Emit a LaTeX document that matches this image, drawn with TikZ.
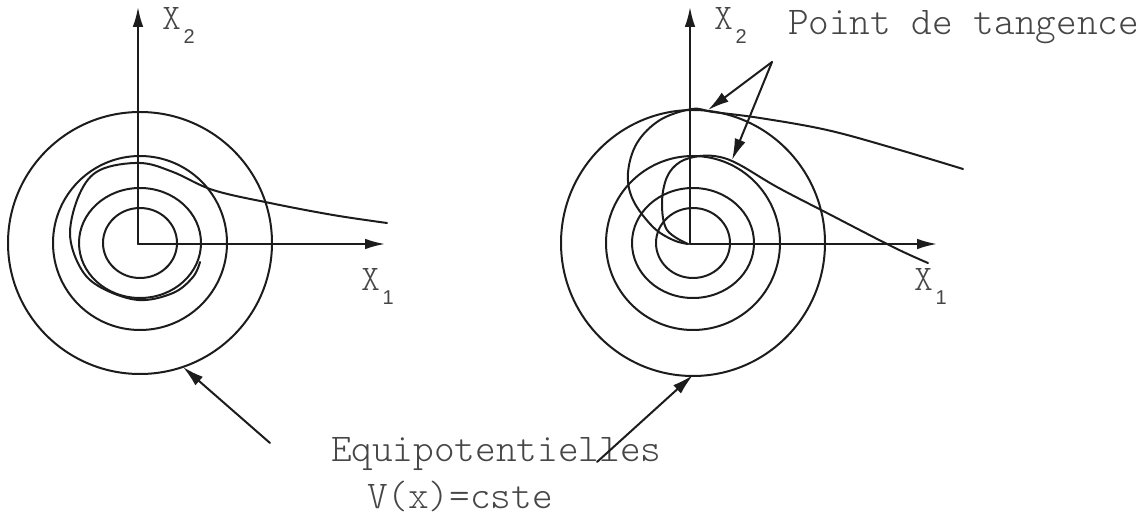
\documentclass[tikz,border=0pt]{standalone}
\usepackage{fontspec}
\setmonofont{Latin Modern Mono Light}
\newfontfamily\subfont{Liberation Sans}
\usetikzlibrary{arrows.meta}
\definecolor{texte}{RGB}{70,70,70}
\definecolor{trait}{RGB}{28,28,28}
\tikzset{
  axe/.style={-{Latex[length=15pt,width=8pt]}},
  fleche/.style={-{Latex[length=16pt,width=8.5pt]}},
  lbl/.style={inner sep=0pt, anchor=base west, text=texte, font=\ttfamily\fontsize{29.5}{34}\selectfont},
  axlbl/.style={lbl, font=\ttfamily\fontsize{27}{32}\selectfont}
}
\newcommand{\indice}[1]{\hspace{2pt}\raisebox{-10pt}{\subfont\fontsize{15}{18}\selectfont #1}}
\begin{document}
\begin{tikzpicture}[x=0.75pt, y=-0.75pt, line width=1.5pt, line join=round, line cap=round, draw=trait]
\useasboundingbox (0,0) rectangle (1138,516);

% Plan de phase de gauche
\coordinate (O1) at (138,244);
\coordinate (X1g) at (385,244);
\coordinate (X2g) at (138,7);
\draw[axe] (O1) -- (X1g);
\draw[axe] (O1) -- (X2g);
\node[axlbl] (lx2g) at (161,30) {X\indice{2}};
\node[axlbl] (lx1g) at (360,291) {X\indice{1}};

% Equipotentielles V(x)=cste
\foreach \rx/\ry in {37/35, 61/55, 87/87, 132/131}
  \draw ([shift={(2,-1)}]O1) ellipse ({\rx} and {\ry});

% Trajectoire en spirale
\draw plot[smooth, tension=0.6] coordinates {(387,223) (333,215) (270,203) (213,190) (173,172) (140,163) (100,170) (80,193) (70,233) (80,267) (100,287) (138,300) (173,293) (193,277) (200,262)};

% Plan de phase de droite
\coordinate (O2) at (690,244);
\coordinate (X1d) at (937,244);
\coordinate (X2d) at (690,7);
\draw[axe] (O2) -- (X1d);
\draw[axe] (O2) -- (X2d);
\node[axlbl] (lx2d) at (713,30) {X\indice{2}};
\node[axlbl] (lx1d) at (913,291) {X\indice{1}};

\foreach \rx/\ry in {37/35, 61/55, 87/87, 132/133}
  \draw ([shift={(3,-1)}]O2) ellipse ({\rx} and {\ry});

% Trajectoires tangentes
\draw plot[smooth, tension=0.6] coordinates {(963,169) (893,148) (827,130) (760,118) (713,112) (692,109) (660,120) (637,143) (628,173) (633,200) (653,227) (673,240) (688,244)};
\draw plot[smooth, tension=0.6] coordinates {(928,263) (893,247) (827,213) (777,187) (740,165) (720,157) (700,156) (680,162) (667,177) (662,203) (667,230) (688,244)};

% Points de tangence
\node[lbl] (tang) at (787,35) {Point de tangence};
\coordinate (sommet) at (772,62);
\coordinate (T1) at (708,110);
\coordinate (T2) at (732,160);
\draw[fleche] (sommet) -- (T1);
\draw[fleche] (sommet) -- (T2);

% Legende
\node[lbl] (equi) at (330,461) {Equipotentielles};
\node[lbl] (cste) at (366,508) {V(x)=cste};
\coordinate (pg) at (270,443);
\coordinate (eg) at (183,367);
\coordinate (pd) at (597,462);
\coordinate (ed) at (693,375);
\draw[fleche] (pg) -- (eg);
\draw[fleche] (pd) -- (ed);
\end{tikzpicture}
\end{document}
